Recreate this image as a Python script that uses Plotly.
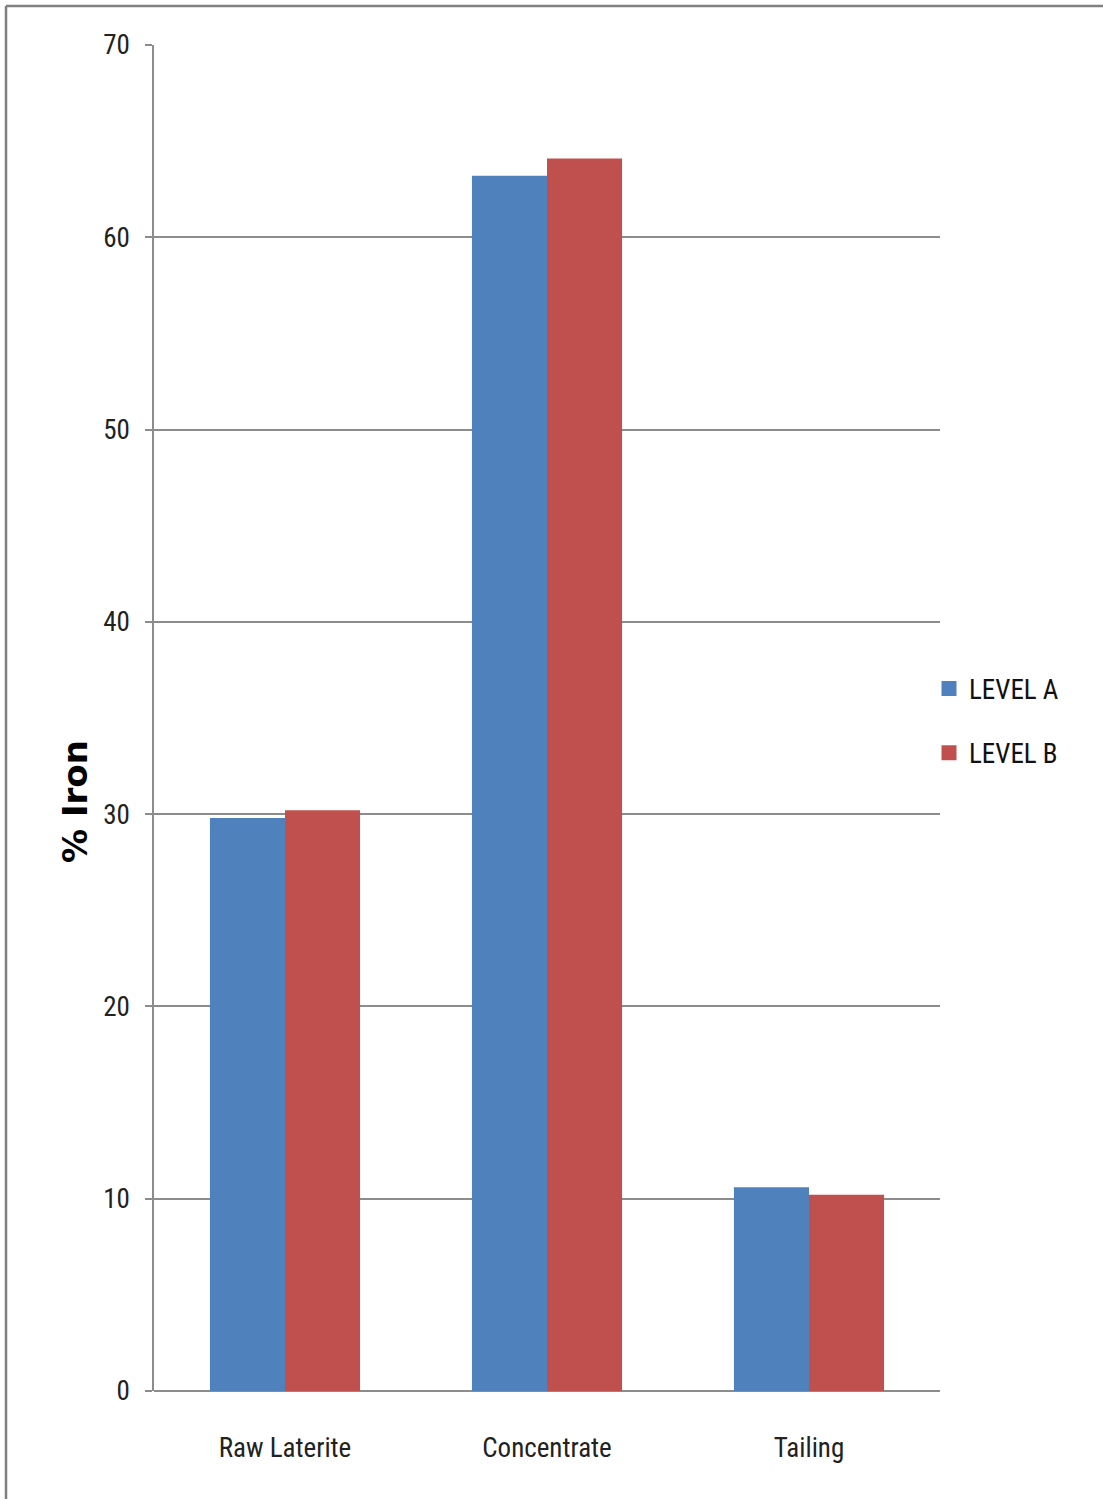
import plotly.graph_objects as go

categories = ["Raw Laterite", "Concentrate", "Tailing"]
level_a = [29.8, 63.2, 10.6]
level_b = [30.2, 64.1, 10.2]
y_ticks = [0, 10, 20, 30, 40, 50, 60, 70]

FONT = "Liberation Sans Narrow, Roboto Condensed, Open Sans, sans-serif"
COLOR_A = "#4F81BD"
COLOR_B = "#C0504D"

fig = go.Figure()
fig.add_trace(go.Bar(name="LEVEL A", x=categories, y=level_a, showlegend=False,
                     marker=dict(color=COLOR_A, line=dict(width=0))))
fig.add_trace(go.Bar(name="LEVEL B", x=categories, y=level_b, showlegend=False,
                     marker=dict(color=COLOR_B, line=dict(width=0))))

# Legend-only entries with larger square swatches
for name, color in [("LEVEL A", COLOR_A), ("LEVEL B", COLOR_B)]:
    fig.add_trace(go.Scatter(name=name, x=[None], y=[None], mode="markers",
                             legendgroup=name,
                             marker=dict(symbol="square", size=15, color=color)))

fig.update_layout(
    width=1103, height=1499,
    margin=dict(l=154, r=163, t=45, b=108),
    paper_bgcolor="white", plot_bgcolor="white",
    barmode="group", bargap=0.427, bargroupgap=0,
    font=dict(family=FONT, size=27, color="#222222"),
    legend=dict(x=(929 - 154) / 786, xanchor="left",
                y=(1391 - 721) / 1346, yanchor="middle",
                font=dict(family=FONT, size=27, color="#111111"),
                tracegroupgap=26, itemwidth=30, traceorder="grouped"),
    showlegend=True,
    xaxis=dict(showline=False, showgrid=False, ticks="",
               tickfont=dict(family=FONT, size=27), ticklabelstandoff=38),
    yaxis=dict(range=[0, 70], tickvals=y_ticks, showgrid=True,
               gridcolor="#8C8C8C", gridwidth=1.5,
               showline=True, linecolor="#8C8C8C", linewidth=1.5,
               ticks="outside", ticklen=7, tickcolor="#8C8C8C", tickwidth=1.5,
               tickfont=dict(family=FONT, size=27), ticklabelstandoff=10,
               zeroline=True, zerolinecolor="#8C8C8C", zerolinewidth=1.5),
    annotations=[
        dict(text="<b>% Iron</b>", xref="paper", yref="paper",
             x=(75 - 154) / 786, y=(1391 - 802) / 1346,
             xanchor="center", yanchor="middle", textangle=-90,
             showarrow=False,
             font=dict(family="DejaVu Sans, sans-serif", size=34, color="#000000")),
    ],
    shapes=[
        dict(type="line", xref="paper", yref="paper",
             x0=(6 - 154) / 786, x1=(1110 - 154) / 786,
             y0=(1391 - 6) / 1346, y1=(1391 - 6) / 1346,
             line=dict(color="#808080", width=2.5)),
        dict(type="line", xref="paper", yref="paper",
             x0=(6 - 154) / 786, x1=(6 - 154) / 786,
             y0=(1391 - 6) / 1346, y1=(1391 - 1510) / 1346,
             line=dict(color="#808080", width=2.5)),
    ],
)

fig.write_html("out.html")
